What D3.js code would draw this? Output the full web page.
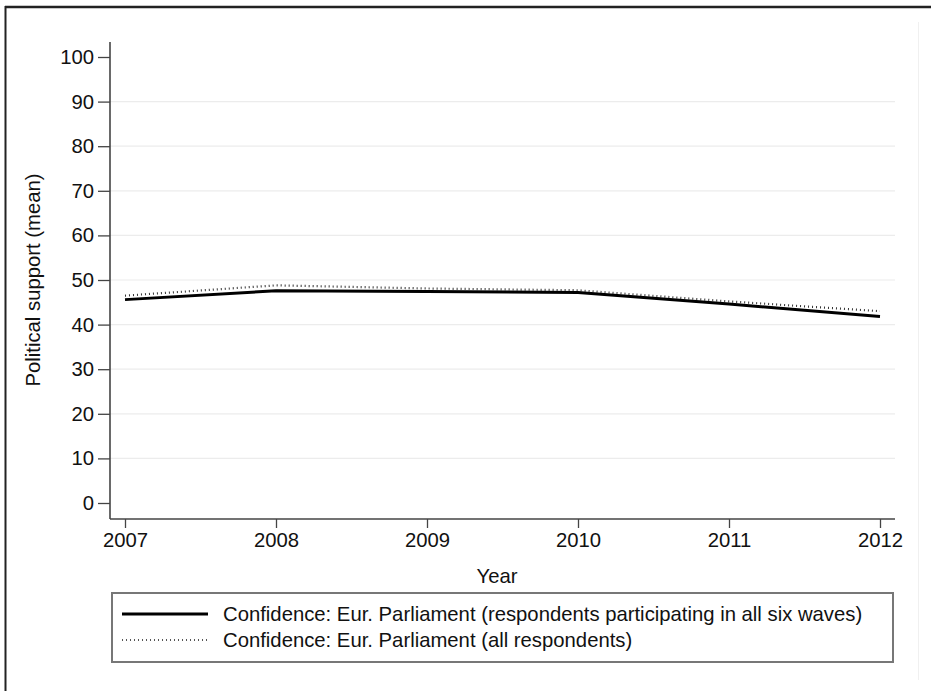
<!DOCTYPE html>
<html>
<head>
<meta charset="utf-8">
<script src="https://cdn.jsdelivr.net/npm/d3@7"></script>
<style>
  body { margin: 0; background: #fff; }
  text { font-family: "Liberation Sans", Arial, sans-serif; fill: #111; }
</style>
</head>
<body>
<div id="chart"></div>
<script>
const years = [2007, 2008, 2009, 2010, 2011, 2012];
const panelValues = [45.6, 47.6, 47.4, 47.2, 44.6, 41.8];
const allValues = [46.5, 48.8, 48.1, 47.7, 45.2, 43.0];
const yTicks = [0, 10, 20, 30, 40, 50, 60, 70, 80, 90, 100];
const seriesNames = [
    'Confidence: Eur. Parliament (respondents participating in all six waves)',
    'Confidence: Eur. Parliament (all respondents)'
];

const WIDTH = 931;
const HEIGHT = 691;
const FONT = 20.3;

const svg = d3.select('#chart')
    .append('svg')
    .attr('width', WIDTH)
    .attr('height', HEIGHT);

// outer frame (cropped figure border)
svg.append('line').attr('x1', 5).attr('x2', WIDTH).attr('y1', 7).attr('y2', 7)
    .attr('stroke', '#222').attr('stroke-width', 2.5);
svg.append('line').attr('x1', 5.5).attr('x2', 5.5).attr('y1', 6).attr('y2', HEIGHT)
    .attr('stroke', '#222').attr('stroke-width', 2);
svg.append('line').attr('x1', 918.5).attr('x2', 918.5).attr('y1', 22).attr('y2', 680)
    .attr('stroke', '#f0f0f0').attr('stroke-width', 1);

// scales
const xScale = d3.scaleLinear()
    .domain([2007, 2012])
    .range([125, 880]);

const yScale = d3.scaleLinear()
    .domain([0, 100])
    .range([503, 57]);

const axisLeftX = 110;
const axisBottomY = 519;
const plotRight = 895;

// gridlines
svg.append('g')
    .selectAll('line')
    .data(yTicks.filter(d => d > 0 && d < 100))
    .enter()
    .append('line')
    .attr('x1', axisLeftX)
    .attr('x2', plotRight)
    .attr('y1', d => yScale(d))
    .attr('y2', d => yScale(d))
    .attr('stroke', '#ececec')
    .attr('stroke-width', 1.2);

// axes
const yAxis = d3.axisLeft(yScale)
    .tickValues(yTicks)
    .tickSize(12)
    .tickPadding(4);
const yg = svg.append('g')
    .attr('class', 'y-axis')
    .attr('transform', `translate(${axisLeftX}, 0)`)
    .call(yAxis);
yg.select('.domain').remove();
yg.append('line').attr('x1', 0).attr('x2', 0).attr('y1', 42).attr('y2', axisBottomY)
    .attr('stroke', '#444').attr('stroke-width', 1.6);

const xAxis = d3.axisBottom(xScale)
    .tickValues(years)
    .tickFormat(d3.format('d'))
    .tickSize(9)
    .tickPadding(5);
const xg = svg.append('g')
    .attr('class', 'x-axis')
    .attr('transform', `translate(0, ${axisBottomY})`)
    .call(xAxis);
xg.select('.domain').remove();
xg.append('line').attr('x1', axisLeftX).attr('x2', plotRight).attr('y1', 0).attr('y2', 0)
    .attr('stroke', '#444').attr('stroke-width', 1.6);

svg.selectAll('.tick line').attr('stroke', '#444').attr('stroke-width', 1.3);
svg.selectAll('.tick text')
    .attr('font-size', FONT)
    .style('font-family', '"Liberation Sans", Arial, sans-serif')
    .attr('fill', '#111');

// axis titles
svg.append('text')
    .attr('x', 497)
    .attr('y', 583)
    .attr('text-anchor', 'middle')
    .attr('font-size', FONT)
    .text('Year');

svg.append('text')
    .attr('transform', 'translate(33, 280) rotate(-90)')
    .attr('text-anchor', 'middle')
    .attr('dominant-baseline', 'central')
    .attr('font-size', FONT)
    .text('Political support (mean)');

// lines
const line = d3.line()
    .x(d => xScale(d[0]))
    .y(d => yScale(d[1]));

svg.append('path')
    .datum(years.map((y, i) => [y, allValues[i]]))
    .attr('d', line)
    .attr('fill', 'none')
    .attr('stroke', '#333')
    .attr('stroke-width', 2.2)
    .attr('stroke-dasharray', '1 3');

svg.append('path')
    .datum(years.map((y, i) => [y, panelValues[i]]))
    .attr('d', line)
    .attr('fill', 'none')
    .attr('stroke', '#000')
    .attr('stroke-width', 3);

// legend
svg.append('rect')
    .attr('x', 112)
    .attr('y', 593)
    .attr('width', 781)
    .attr('height', 69)
    .attr('fill', '#fff')
    .attr('stroke', '#777')
    .attr('stroke-width', 2);

const legend = svg.append('g')
    .selectAll('g')
    .data(seriesNames)
    .enter()
    .append('g')
    .attr('transform', (d, i) => `translate(0, ${614 + i * 26})`);

legend.append('line')
    .attr('x1', 122)
    .attr('x2', 208)
    .attr('y1', 0)
    .attr('y2', 0)
    .attr('stroke', (d, i) => i === 0 ? '#000' : '#555')
    .attr('stroke-width', (d, i) => i === 0 ? 3 : 2.2)
    .attr('stroke-dasharray', (d, i) => i === 0 ? null : '1 3');

legend.append('text')
    .attr('x', 223)
    .attr('y', 0)
    .attr('dominant-baseline', 'central')
    .attr('font-size', FONT)
    .text(d => d);
</script>
</body>
</html>
